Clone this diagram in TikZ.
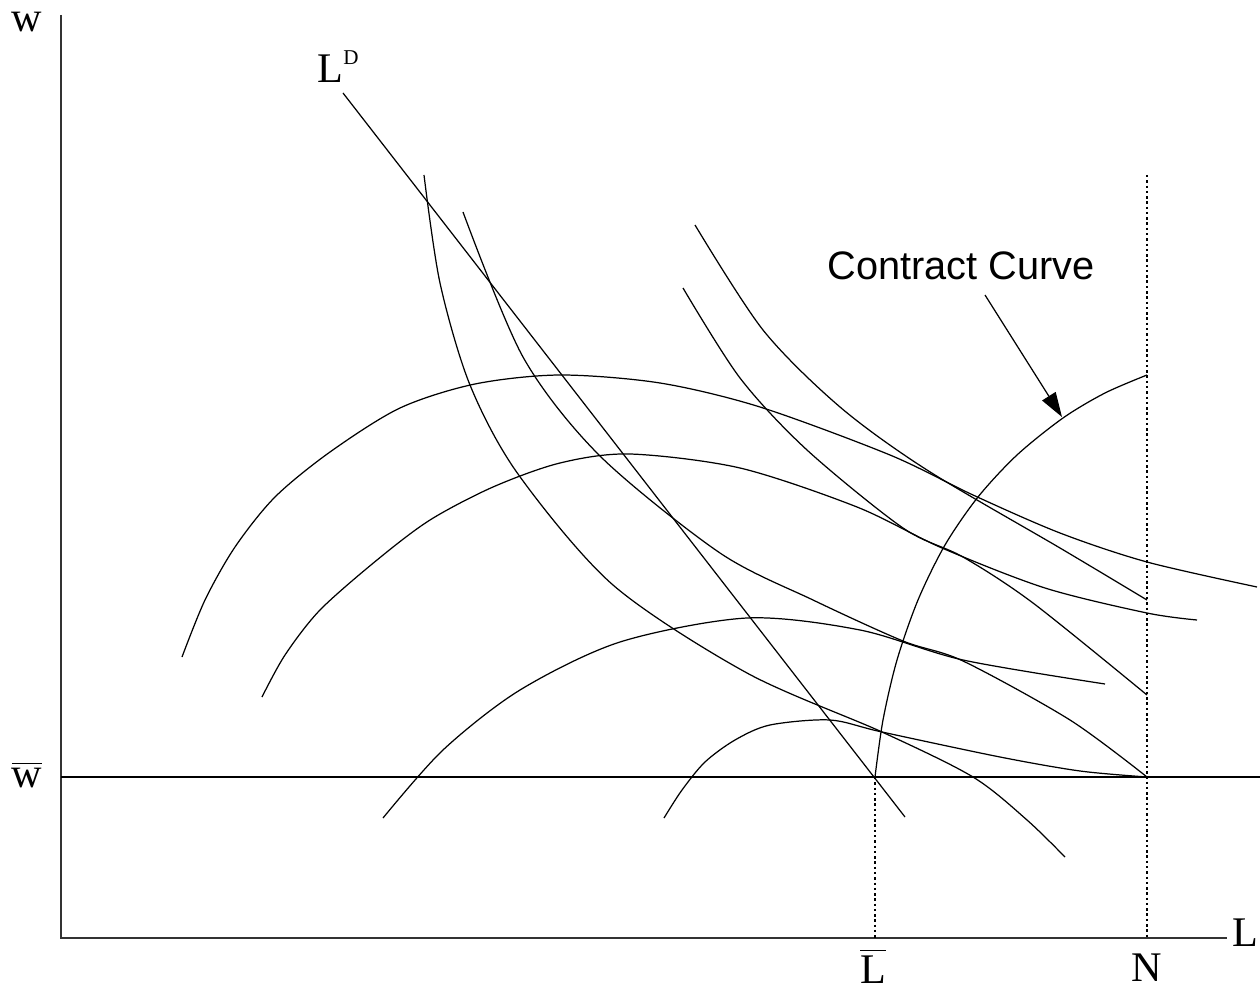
\documentclass[tikz,border=0pt]{standalone}
\usepackage{fontspec}
\setmainfont{Liberation Serif}
\newfontfamily\ccfont{Liberation Sans}
\usetikzlibrary{arrows.meta}

\begin{document}
\begin{tikzpicture}[
x=0.01cm, y=-0.01cm,
axis/.style={line width=0.45pt, black!80},
curve/.style={line width=0.35pt},
guide/.style={line width=0.35pt, dash pattern=on 0.7pt off 0.8pt},
pointer/.style={-{Triangle[length=7pt,width=4.5pt]}, line width=0.35pt},
lbl/.style={inner sep=0pt, font=\fontsize{12}{14}\selectfont},
cclbl/.style={inner sep=0pt, font=\ccfont\fontsize{11.3}{13}\selectfont}
]
\useasboundingbox (0,0) rectangle (1260,988);

\coordinate (O) at (61,938);
\coordinate (ytop) at (61,15);
\coordinate (xend) at (1227,938);
\coordinate (wb0) at (61,777);
\coordinate (wb1) at (1260,777);
\coordinate (Lb) at (875,777);
\coordinate (Np) at (1147,777);
\coordinate (Ntop) at (1147,175);
\coordinate (LDtop) at (343,93);
\coordinate (LDend) at (905,817);
\coordinate (ccfoot) at (985,295);
\coordinate (cctip) at (1062,417);

\node[lbl] (wlab) at (27,22) {w};
\node[lbl] (wbar) at (27,775) {$\overline{\mbox{w}}$};
\node[lbl, anchor=east] (Llab) at (1259,933) {L};
\node[lbl] (Lbar) at (873,966) {$\overline{\mbox{L}}$};
\node[lbl] (Nlab) at (1147,968) {N};
\node[lbl] (LDlab) at (338,67) {L\raisebox{5.1pt}{\fontsize{6}{7}\selectfont D}};
\node[cclbl] (cc) at (961,266) {Contract Curve};

\draw[axis] (ytop) -- (O) -- (xend);
\draw[curve] (wb0) -- (wb1);
\draw[guide] (Lb) -- (Lb |- O);
\draw[guide] (Ntop) -- (Ntop |- O);
\draw[curve] (LDtop) -- (LDend);

\draw[curve] plot[smooth] coordinates {(182,657) (205,600) (235,547) (275,497) (330,452) (400,408) (475,384) (560,375) (660,383) (760,407) (890,455) (973,495) (1060,533) (1147,562) (1257,587)};
\draw[curve] plot[smooth] coordinates {(262,697) (285,655) (320,610) (377,560) (430,520) (493,487) (560,463) (630,454) (740,468) (857,507) (942,548) (1045,588) (1147,613) (1197,620)};
\draw[curve] plot[smooth] coordinates {(383,818) (443,750) (520,690) (620,642) (747,618) (860,630) (963,660) (1105,684)};
\draw[curve] plot[smooth] coordinates {(664,818) (682,790) (705,762) (735,740) (770,725) (830,720) (882,732) (1000,757) (1080,771) (1147,777)};

\draw[curve] plot[smooth] coordinates {(424,175) (440,283) (470,385) (518,474) (613,585) (747,673) (882,732) (973,777) (1027,820) (1065,857)};
\draw[curve] plot[smooth] coordinates {(463,212) (523,357) (600,456) (720,553) (813,600) (903,641) (963,661) (1070,720) (1147,777)};
\draw[curve] plot[smooth] coordinates {(683,288) (740,378) (807,450) (903,528) (963,557) (1033,603) (1147,695)};
\draw[curve] plot[smooth] coordinates {(695,225) (763,330) (840,407) (927,470) (1060,548) (1147,600)};

\draw[curve] plot[smooth] coordinates {(875,777) (883,720) (897,660) (918,600) (945,545) (978,497) (1017,455) (1063,418) (1105,393) (1147,375)};
\draw[pointer] (ccfoot) -- (cctip);
\end{tikzpicture}
\end{document}
